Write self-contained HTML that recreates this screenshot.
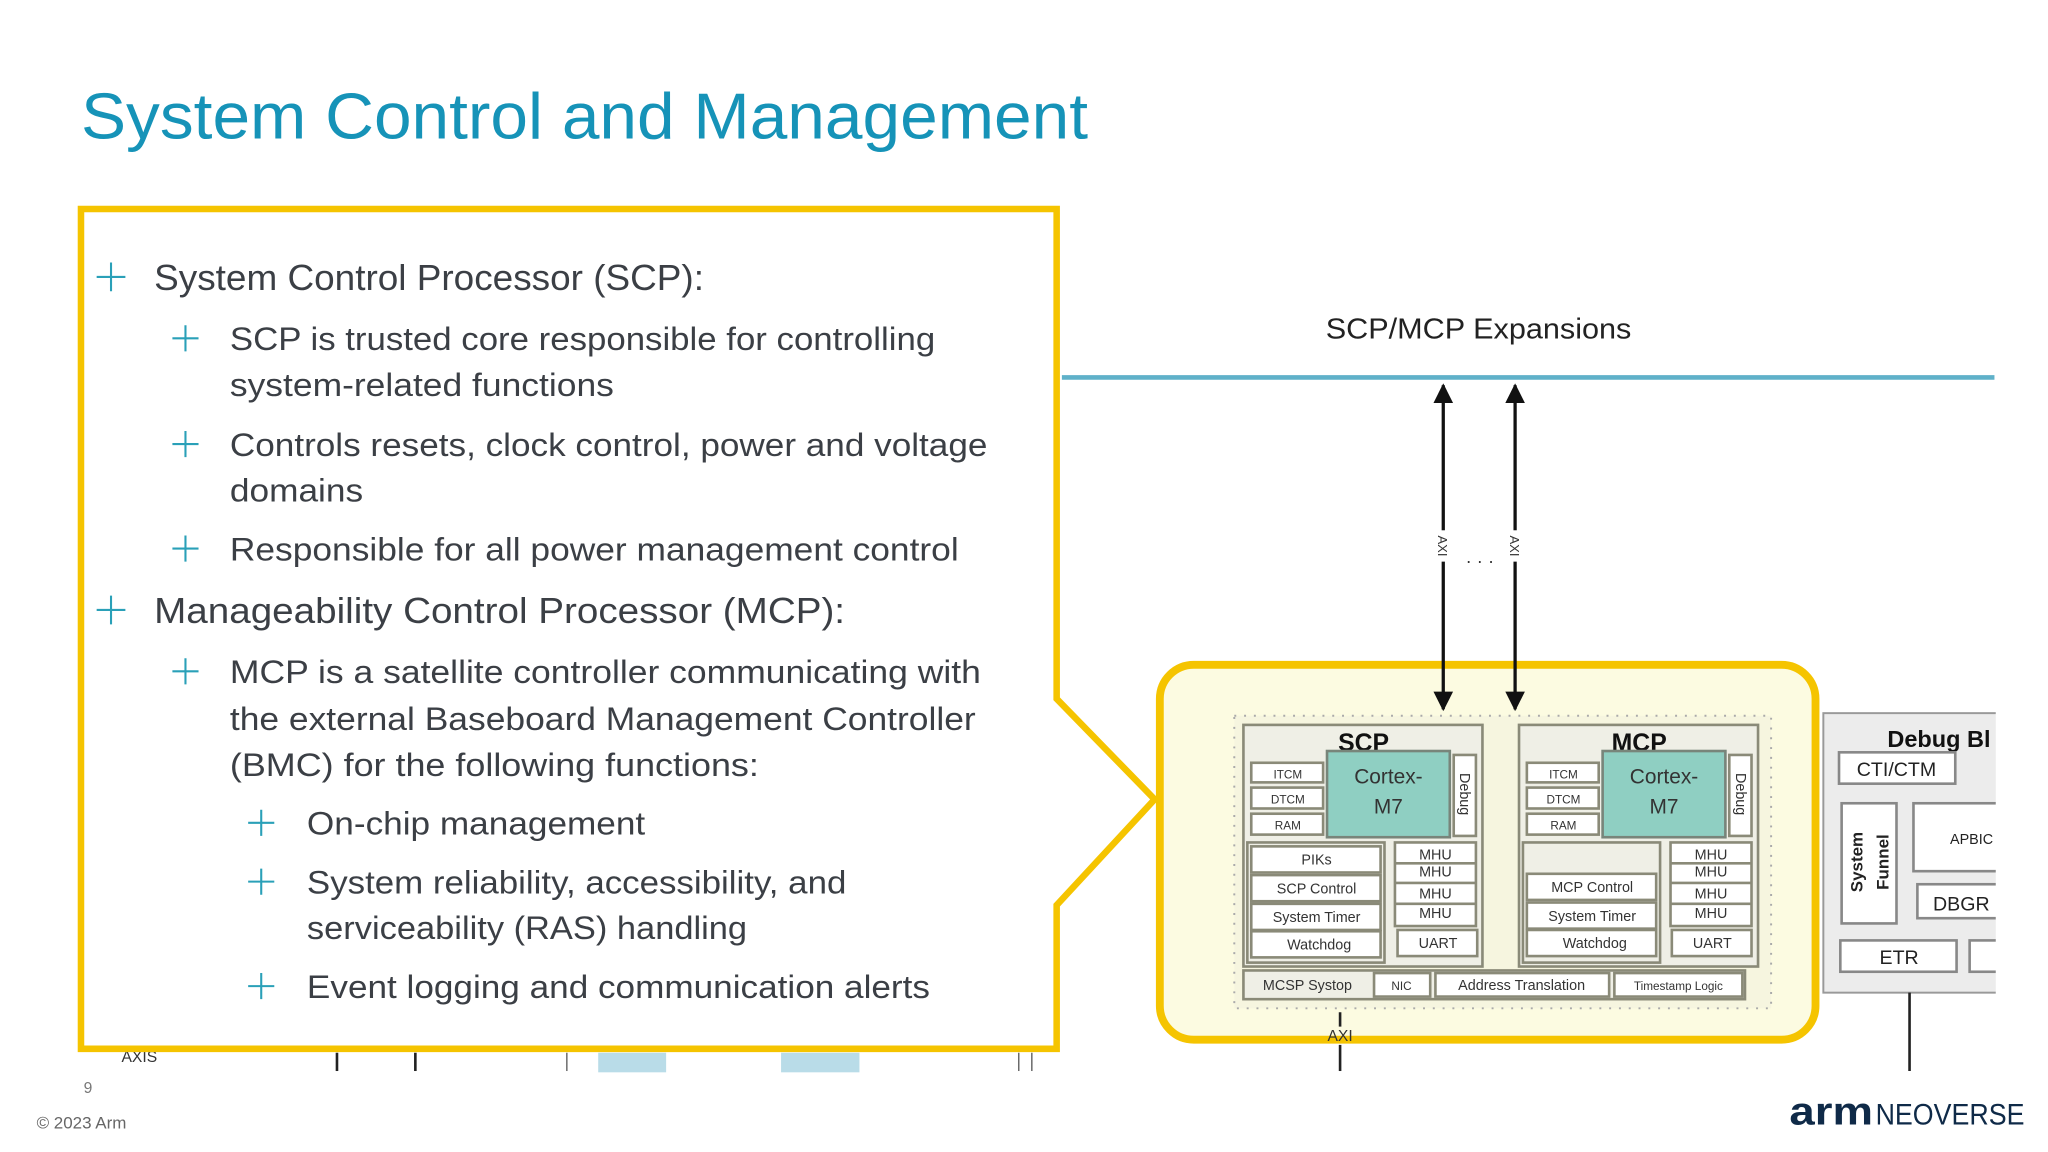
<!DOCTYPE html>
<html><head><meta charset="utf-8"><style>
html,body{margin:0;padding:0;background:#fff;width:2048px;height:1152px;overflow:hidden}
svg{display:block}
text{font-family:"Liberation Sans",sans-serif}
</style></head><body>
<svg width="2048" height="1152" viewBox="0 0 1568 882" xmlns="http://www.w3.org/2000/svg">
<defs>
<marker id="ah" viewBox="0 0 10 10" refX="9" refY="5" markerWidth="6" markerHeight="7" orient="auto-start-reverse"><path d="M0,0 L10,5 L0,10 Z" fill="#111"/></marker>
</defs>
<!-- title -->
<text x="62" y="106" font-size="50" fill="#1693b8" textLength="771" lengthAdjust="spacingAndGlyphs">System Control and Management</text>

<!-- fragments below callout -->
<text x="93" y="813" font-size="12" fill="#333">AXIS</text>
<line x1="258" y1="806" x2="258" y2="820" stroke="#222" stroke-width="2"/>
<line x1="318" y1="806" x2="318" y2="820" stroke="#222" stroke-width="2"/>
<line x1="434" y1="806" x2="434" y2="820" stroke="#555" stroke-width="1"/>
<rect x="458" y="806" width="52" height="15" fill="#b9dce8"/>
<rect x="598" y="806" width="60" height="15" fill="#b9dce8"/>
<line x1="780" y1="806" x2="780" y2="820" stroke="#555" stroke-width="1"/>
<line x1="790" y1="806" x2="790" y2="820" stroke="#555" stroke-width="1"/>

<!-- blue bus -->
<line x1="813" y1="289" x2="1527" y2="289" stroke="#5fb1c9" stroke-width="3.5"/>
<text x="1132" y="259" font-size="22" fill="#222" text-anchor="middle" textLength="234" lengthAdjust="spacingAndGlyphs">SCP/MCP Expansions</text>

<!-- rounded yellow box -->
<rect x="888" y="509" width="502" height="287" rx="26" fill="#fcfbe1" stroke="#f5c400" stroke-width="6"/>
<rect x="945" y="548" width="411" height="224" fill="#f6f5df" stroke="#aaa" stroke-width="1.5" stroke-dasharray="1.5 6"/>

<line x1="1105" y1="295" x2="1105" y2="543" stroke="#111" stroke-width="2.5" marker-start="url(#ah)" marker-end="url(#ah)"/>
<line x1="1160" y1="295" x2="1160" y2="543" stroke="#111" stroke-width="2.5" marker-start="url(#ah)" marker-end="url(#ah)"/>
<rect x="1099" y="406" width="12" height="24" fill="#fff"/>
<rect x="1154" y="406" width="12" height="24" fill="#fff"/>
<text transform="translate(1101,418) rotate(90)" font-size="10" fill="#333" text-anchor="middle">AXI</text>
<text transform="translate(1156,418) rotate(90)" font-size="10" fill="#333" text-anchor="middle">AXI</text>
<text x="1133" y="434" font-size="14" fill="#333" text-anchor="middle">· · ·</text>

<g font-size="11" fill="#333" text-anchor="middle" stroke-width="2">
<!-- SCP -->
<rect x="952" y="555" width="183" height="185" fill="#efefe6" stroke="#8a8a78"/>
<text x="1044" y="575" font-size="19" font-weight="bold" fill="#111">SCP</text>
<rect x="1016" y="575" width="94" height="66" fill="#8fcfc2" stroke="#78857a"/>
<text x="1063" y="600" font-size="16">Cortex-</text><text x="1063" y="623" font-size="16">M7</text>
<rect x="1113" y="578" width="17" height="62" fill="#fff" stroke="#8a8a78"/>
<text transform="translate(1118,608) rotate(90)" font-size="11">Debug</text>
<rect x="958" y="584" width="55" height="15" fill="#fff" stroke="#8a8a78"/><text x="986" y="596" font-size="9">ITCM</text>
<rect x="958" y="603" width="55" height="16" fill="#fff" stroke="#8a8a78"/><text x="986" y="615" font-size="9">DTCM</text>
<rect x="958" y="623" width="55" height="16" fill="#fff" stroke="#8a8a78"/><text x="986" y="635" font-size="9">RAM</text>
<rect x="955" y="645" width="105" height="92" fill="#efefe6" stroke="#8a8a78"/>
<rect x="958" y="648" width="99" height="20" fill="#fff" stroke="#8a8a78"/><text x="1008" y="662">PIKs</text>
<rect x="958" y="670" width="99" height="20" fill="#fff" stroke="#8a8a78"/><text x="1008" y="684">SCP Control</text>
<rect x="958" y="692" width="99" height="20" fill="#fff" stroke="#8a8a78"/><text x="1008" y="706">System Timer</text>
<rect x="958" y="713" width="99" height="20" fill="#fff" stroke="#8a8a78"/><text x="1010" y="727">Watchdog</text>
<rect x="1068" y="645" width="62" height="64" fill="#fff" stroke="#8a8a78"/>
<line x1="1068" y1="661" x2="1130" y2="661" stroke="#8a8a78"/><line x1="1068" y1="676" x2="1130" y2="676" stroke="#8a8a78"/><line x1="1068" y1="692" x2="1130" y2="692" stroke="#8a8a78"/>
<text x="1099" y="658">MHU</text><text x="1099" y="671">MHU</text><text x="1099" y="688">MHU</text><text x="1099" y="703">MHU</text>
<rect x="1070" y="712" width="61" height="20" fill="#fff" stroke="#8a8a78"/><text x="1101" y="726">UART</text>
<!-- MCP -->
<rect x="1163" y="555" width="183" height="185" fill="#efefe6" stroke="#8a8a78"/>
<text x="1255" y="575" font-size="19" font-weight="bold" fill="#111">MCP</text>
<rect x="1227" y="575" width="94" height="66" fill="#8fcfc2" stroke="#78857a"/>
<text x="1274" y="600" font-size="16">Cortex-</text><text x="1274" y="623" font-size="16">M7</text>
<rect x="1324" y="578" width="17" height="62" fill="#fff" stroke="#8a8a78"/>
<text transform="translate(1329,608) rotate(90)" font-size="11">Debug</text>
<rect x="1169" y="584" width="55" height="15" fill="#fff" stroke="#8a8a78"/><text x="1197" y="596" font-size="9">ITCM</text>
<rect x="1169" y="603" width="55" height="16" fill="#fff" stroke="#8a8a78"/><text x="1197" y="615" font-size="9">DTCM</text>
<rect x="1169" y="623" width="55" height="16" fill="#fff" stroke="#8a8a78"/><text x="1197" y="635" font-size="9">RAM</text>
<rect x="1166" y="645" width="105" height="92" fill="#efefe6" stroke="#8a8a78"/>
<rect x="1169" y="669" width="99" height="20" fill="#fff" stroke="#8a8a78"/><text x="1219" y="683">MCP Control</text>
<rect x="1169" y="691" width="99" height="20" fill="#fff" stroke="#8a8a78"/><text x="1219" y="705">System Timer</text>
<rect x="1169" y="712" width="99" height="20" fill="#fff" stroke="#8a8a78"/><text x="1221" y="726">Watchdog</text>
<rect x="1279" y="645" width="62" height="64" fill="#fff" stroke="#8a8a78"/>
<line x1="1279" y1="661" x2="1341" y2="661" stroke="#8a8a78"/><line x1="1279" y1="676" x2="1341" y2="676" stroke="#8a8a78"/><line x1="1279" y1="692" x2="1341" y2="692" stroke="#8a8a78"/>
<text x="1310" y="658">MHU</text><text x="1310" y="671">MHU</text><text x="1310" y="688">MHU</text><text x="1310" y="703">MHU</text>
<rect x="1280" y="712" width="61" height="20" fill="#fff" stroke="#8a8a78"/><text x="1311" y="726">UART</text>
<!-- bottom row -->
<rect x="952" y="743" width="384" height="22" fill="#efefe6" stroke="#8a8a78"/>
<text x="1001" y="758">MCSP Systop</text>
<rect x="1052" y="745" width="43" height="18" fill="#fff" stroke="#8a8a78"/><text x="1073" y="758" font-size="9">NIC</text>
<rect x="1099" y="745" width="133" height="18" fill="#fff" stroke="#8a8a78"/><text x="1165" y="758">Address Translation</text>
<rect x="1236" y="745" width="98" height="18" fill="#fff" stroke="#8a8a78"/><text x="1285" y="758" font-size="9">Timestamp Logic</text>
</g>
<line x1="1026" y1="775" x2="1026" y2="786" stroke="#222" stroke-width="2"/>
<text x="1026" y="797" font-size="12" fill="#333" text-anchor="middle">AXI</text>
<line x1="1026" y1="800" x2="1026" y2="820" stroke="#222" stroke-width="2"/>

<!-- debug block -->
<rect x="1396" y="546" width="140" height="214" fill="#ececec" stroke="#999" stroke-width="1.5"/>
<text x="1445" y="572" font-size="18" font-weight="bold" fill="#111">Debug Bl</text>
<rect x="1408" y="576" width="89" height="24" fill="#fff" stroke="#888" stroke-width="2"/>
<text x="1452" y="594" font-size="15" fill="#222" text-anchor="middle">CTI/CTM</text>
<rect x="1410" y="615" width="42" height="92" fill="#fff" stroke="#888" stroke-width="2"/>
<text transform="translate(1426,660) rotate(-90)" font-size="13" font-weight="bold" fill="#222" text-anchor="middle">System</text>
<text transform="translate(1446,660) rotate(-90)" font-size="13" font-weight="bold" fill="#222" text-anchor="middle">Funnel</text>
<rect x="1465" y="615" width="70" height="52" fill="#fff" stroke="#888" stroke-width="2"/>
<text x="1493" y="646" font-size="11" fill="#222">APBIC</text>
<rect x="1468" y="677" width="67" height="26" fill="#fff" stroke="#888" stroke-width="2"/>
<text x="1480" y="697" font-size="15" fill="#222">DBGR</text>
<rect x="1409" y="720" width="89" height="24" fill="#fff" stroke="#888" stroke-width="2"/>
<text x="1454" y="738" font-size="15" fill="#222" text-anchor="middle">ETR</text>
<rect x="1508" y="720" width="30" height="24" fill="#fff" stroke="#888" stroke-width="2"/>
<rect x="1528" y="540" width="40" height="230" fill="#fff"/>
<line x1="1462" y1="760" x2="1462" y2="820" stroke="#222" stroke-width="2"/>

<!-- callout -->
<path d="M62,160 L809,160 L809,535 L884,612 L809,693 L809,803 L62,803 Z" fill="#fff" stroke="#f5c400" stroke-width="5"/>

<g fill="#3b3f45">
<g stroke="#2aa0b8" stroke-width="1.6">
<path d="M74,212 h22 M85,201 v22"/>
<path d="M132,259 h20 M142,249 v20"/>
<path d="M132,340 h20 M142,330 v20"/>
<path d="M132,420 h20 M142,410 v20"/>
<path d="M74,467 h22 M85,456 v22"/>
<path d="M132,514 h20 M142,504 v20"/>
<path d="M190,630 h20 M200,620 v20"/>
<path d="M190,675 h20 M200,665 v20"/>
<path d="M190,755 h20 M200,745 v20"/>
</g>
<text x="118" y="222" font-size="28" textLength="421" lengthAdjust="spacingAndGlyphs">System Control Processor (SCP):</text>
<text x="176" y="268" font-size="25" textLength="540" lengthAdjust="spacingAndGlyphs">SCP is trusted core responsible for controlling</text>
<text x="176" y="303" font-size="25" textLength="294" lengthAdjust="spacingAndGlyphs">system-related functions</text>
<text x="176" y="349" font-size="25" textLength="580" lengthAdjust="spacingAndGlyphs">Controls resets, clock control, power and voltage</text>
<text x="176" y="384" font-size="25" textLength="102" lengthAdjust="spacingAndGlyphs">domains</text>
<text x="176" y="429" font-size="25" textLength="558" lengthAdjust="spacingAndGlyphs">Responsible for all power management control</text>
<text x="118" y="477" font-size="28" textLength="529" lengthAdjust="spacingAndGlyphs">Manageability Control Processor (MCP):</text>
<text x="176" y="523" font-size="25" textLength="575" lengthAdjust="spacingAndGlyphs">MCP is a satellite controller communicating with</text>
<text x="176" y="559" font-size="25" textLength="571" lengthAdjust="spacingAndGlyphs">the external Baseboard Management Controller</text>
<text x="176" y="594" font-size="25" textLength="405" lengthAdjust="spacingAndGlyphs">(BMC) for the following functions:</text>
<text x="235" y="639" font-size="25" textLength="259" lengthAdjust="spacingAndGlyphs">On-chip management</text>
<text x="235" y="684" font-size="25" textLength="413" lengthAdjust="spacingAndGlyphs">System reliability, accessibility, and</text>
<text x="235" y="719" font-size="25" textLength="337" lengthAdjust="spacingAndGlyphs">serviceability (RAS) handling</text>
<text x="235" y="764" font-size="25" textLength="477" lengthAdjust="spacingAndGlyphs">Event logging and communication alerts</text>
</g>

<!-- footer -->
<text x="64" y="837" font-size="12" fill="#777">9</text>
<text x="28" y="864" font-size="13" fill="#666">© 2023 Arm</text>
<text x="1370" y="861" font-size="30" font-weight="bold" fill="#0f2a48" textLength="64" lengthAdjust="spacingAndGlyphs">arm</text>
<text x="1436" y="861" font-size="23" fill="#0f2a48" textLength="114" lengthAdjust="spacingAndGlyphs">NEOVERSE</text>
</svg>
</body></html>
